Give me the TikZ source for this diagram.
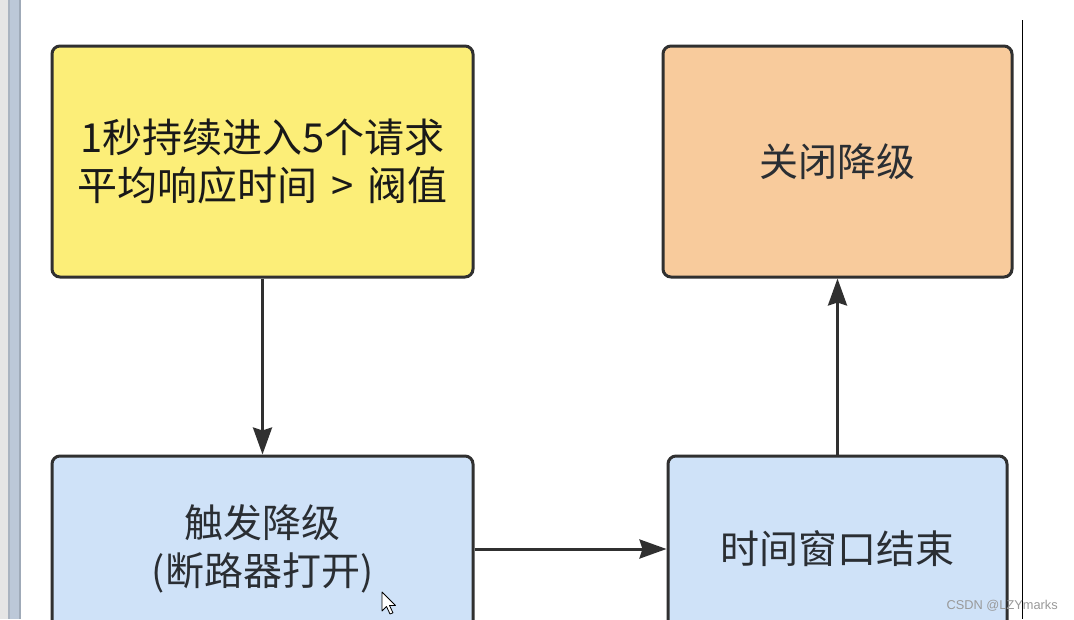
\documentclass[tikz,border=0pt]{standalone}
\usepackage{fontspec}
\setmainfont{Noto Sans CJK SC}
\newfontfamily\wmfont{Liberation Sans}
\usetikzlibrary{arrows.meta}
\definecolor{edgec}{HTML}{303030}
\definecolor{yfill}{HTML}{FCEE78}
\definecolor{ofill}{HTML}{F8CB9C}
\definecolor{bfill}{HTML}{CFE2F8}
\definecolor{txtc}{HTML}{2A2E33}
\definecolor{frameA}{HTML}{A9B3C0}
\definecolor{frameB}{HTML}{BCC8D8}
\definecolor{frameC}{HTML}{9FAAB8}
\tikzset{
  box/.style={draw=edgec, line width=3pt, rounded corners=8pt, align=center,
    inner sep=0pt, text=txtc, font=\fontsize{39}{48}\selectfont},
  conn/.style={draw=edgec, line width=3pt,
    -{Stealth[length=27pt,width=19pt,inset=3pt]}},
}
\begin{document}
\begin{tikzpicture}[x=1pt,y=-1pt]
\useasboundingbox (0,0) rectangle (1074,619);
\clip (0,0) rectangle (1074,619);
\fill[white] (0,0) rectangle (1074,619);
% window frame at left
\fill[black!10] (0,0) rectangle (8,619);
\fill[frameA] (8,0) rectangle (10,619);
\fill[frameB] (10,0) rectangle (19,619);
\fill[frameC] (19,0) rectangle (21,619);
% right border line
\draw[black, line width=1.5pt] (1022.5,20) -- (1022.5,619);

\node[box, fill=yfill, minimum width=421pt, minimum height=231pt, text=black!90,
  font=\fontsize{40}{48}\selectfont]
  (trig) at (262.5,161.5) {1秒持续进入5个请求\\平均响应时间\hspace{0.12em} > \hspace{0.12em}阀值};
\node[box, fill=ofill, minimum width=349pt, minimum height=231pt]
  (close) at (837.5,161.5) {关闭降级};
\node[box, fill=bfill, minimum width=421pt, minimum height=186pt]
  (open) at (262.5,549) {触发降级\\(断路器打开)};
\node[box, fill=bfill, minimum width=339pt, minimum height=186pt]
  (win) at (837.5,549) {时间窗口结束};

\draw[conn] (trig.south) -- (open.north);
\draw[conn] (open.east) -- (win.west);
\draw[conn] (win.north) -- (close.south);

% mouse pointer
\draw[black, fill=white, line width=0.8pt, line join=round]
  (382,592) -- (382,611) -- (386.5,606.5) -- (390,614) -- (393,612.8)
  -- (389.5,605.5) -- (395.5,605.5) -- cycle;

\node[anchor=base east, inner sep=0pt, text=black!40,
  font=\wmfont\fontsize{12.8}{16}\selectfont] (wm) at (1058,609) {CSDN @LZYmarks};
\end{tikzpicture}
\end{document}
